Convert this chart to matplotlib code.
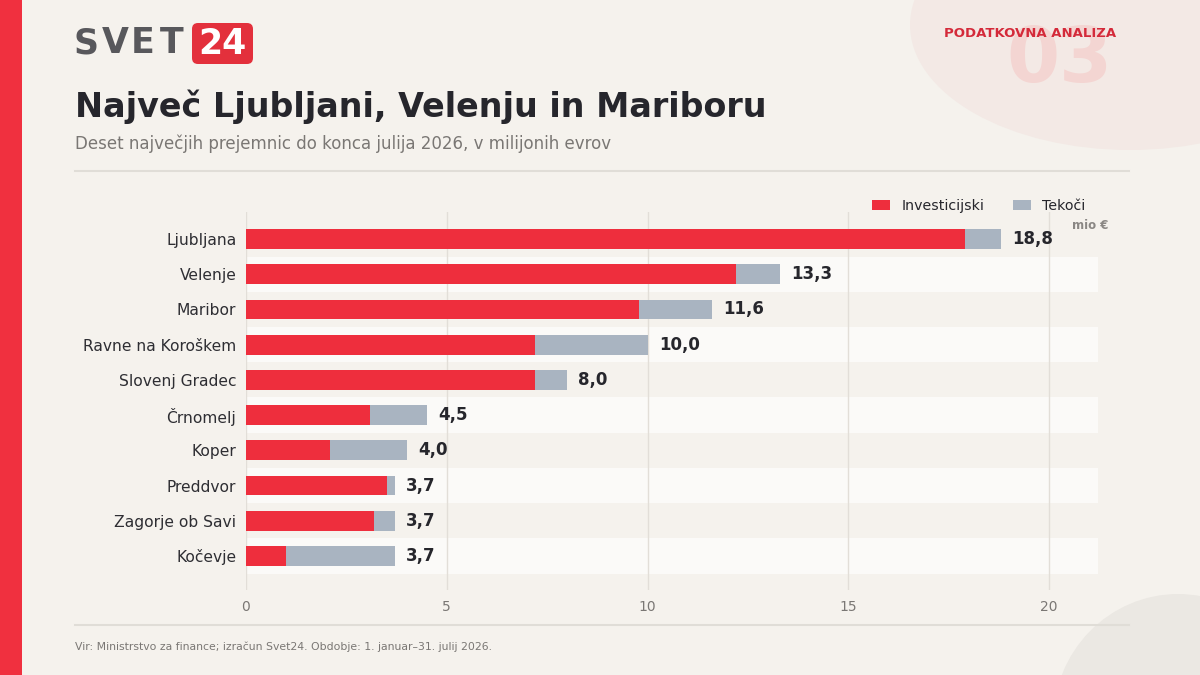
import matplotlib
matplotlib.use("Agg")
import matplotlib.pyplot as plt
from matplotlib.patches import Rectangle, Ellipse, FancyBboxPatch
import numpy as np

plt.rcParams['font.family'] = ['DejaVu Sans']

# ---- data ----
municipalities = ["Ljubljana", "Velenje", "Maribor", "Ravne na Koroškem", "Slovenj Gradec",
                  "Črnomelj", "Koper", "Preddvor", "Zagorje ob Savi", "Kočevje"]
investicijski = [17.9, 12.2, 9.8, 7.2, 7.2, 3.1, 2.1, 3.5, 3.2, 1.0]
totals = [18.8, 13.3, 11.6, 10.0, 8.0, 4.5, 4.0, 3.7, 3.7, 3.7]
tekoci = [t - i for t, i in zip(totals, investicijski)]
total_labels = ["18,8", "13,3", "11,6", "10,0", "8,0", "4,5", "4,0", "3,7", "3,7", "3,7"]
xticks = [0, 5, 10, 15, 20]
series_names = ["Investicijski", "Tekoči"]

BG = "#f5f2ed"
RED = "#ee2e3d"
GREY = "#a9b4c1"
W, H = 1200, 675

fig = plt.figure(figsize=(12, 6.75), dpi=100, facecolor=BG)

# background decorations (pixel coords)
deco = fig.add_axes([0, 0, 1, 1], zorder=0)
deco.set_xlim(0, W)
deco.set_ylim(H, 0)
deco.axis("off")
deco.add_patch(Ellipse((1130, 25), 440, 250, facecolor="#f3e9e5", edgecolor="none"))
deco.add_patch(Ellipse((1178, 722), 250, 256, facecolor="#ebe8e3", edgecolor="none"))
deco.add_patch(Rectangle((0, 0), 22, H, facecolor="#f0303f", edgecolor="none"))
deco.text(1060, 82, "03", fontsize=55, fontweight="bold", color="#f3d5d2", ha="center",
          va="baseline")
deco.text(1116, 37, "PODATKOVNA ANALIZA", fontsize=9.5, fontweight="bold", color="#d42a3a",
          ha="right", va="baseline")
# logo
for ch, lx in zip("SVET", [74, 102, 131, 160]):
    deco.text(lx, 53, ch, fontsize=25, fontweight="heavy", color="#58585c", ha="left",
              va="baseline")
deco.add_patch(FancyBboxPatch((192, 23), 61, 41, boxstyle="round,pad=0,rounding_size=6",
                              facecolor="#e3303c", edgecolor="none"))
deco.text(222, 54, "24", fontsize=25, fontweight="heavy", color="white", ha="center",
          va="baseline")
# title / subtitle
deco.text(75, 117, "Največ Ljubljani, Velenju in Mariboru", fontsize=24, fontweight="bold",
          color="#26262c", ha="left", va="baseline")
deco.text(75, 149, "Deset največjih prejemnic do konca julija 2026, v milijonih evrov",
          fontsize=12, color="#7a7774", ha="left", va="baseline")
deco.plot([75, 1129], [171, 171], color="#e0ddd7", lw=1.5)
deco.plot([75, 1129], [625, 625], color="#e0ddd7", lw=1.5)
deco.text(75, 650, "Vir: Ministrstvo za finance; izračun Svet24. Obdobje: 1. januar–31. julij 2026.",
          fontsize=7.8, color="#7a7774", ha="left", va="baseline")
deco.text(1090, 229, "mio €", fontsize=8.5, fontweight="bold", color="#8a8784", ha="center",
          va="baseline")

# main chart
ax = fig.add_axes([246 / W, 85 / H, 852 / W, 378 / H], zorder=1)
ax.set_facecolor("none")
y = np.arange(len(municipalities))
for i in y:
    if i % 2 == 1:
        ax.axhspan(i - 0.5, i + 0.5, color="#fbfaf8", zorder=0, lw=0)
for xv in xticks:
    ax.axvline(xv, color="#e2ded8", lw=1, zorder=1)
b1 = ax.barh(y, investicijski, height=0.56, color=RED, zorder=2, label=series_names[0])
b2 = ax.barh(y, tekoci, left=investicijski, height=0.56, color=GREY, zorder=2,
             label=series_names[1])
for yi, t, lab in zip(y, totals, total_labels):
    ax.text(t + 0.28, yi, lab, fontsize=12, fontweight="bold", color="#26262c",
            va="center", ha="left", zorder=3)

ax.set_xlim(0, 21.22)
ax.set_ylim(9.966, -0.767)
ax.set_xticks(xticks)
ax.set_xticklabels([str(v) for v in xticks])
ax.set_yticks(y)
ax.set_yticklabels(municipalities)
ax.tick_params(axis="x", length=0, labelsize=10, labelcolor="#7a7774", pad=7)
ax.tick_params(axis="y", length=0, labelsize=11.2, labelcolor="#2e2e33", pad=7)
for s in ax.spines.values():
    s.set_visible(False)

leg = ax.legend(handles=[b1, b2], loc="lower right", bbox_to_anchor=(0.985, 0.998), ncol=2,
                frameon=False, fontsize=10.2, handlelength=1.27, handleheight=0.7,
                columnspacing=2.0, handletextpad=0.8, borderaxespad=0.0, borderpad=0.0)
for t in leg.get_texts():
    t.set_color("#26262c")

fig.savefig("out.png", dpi=100, facecolor=BG)
